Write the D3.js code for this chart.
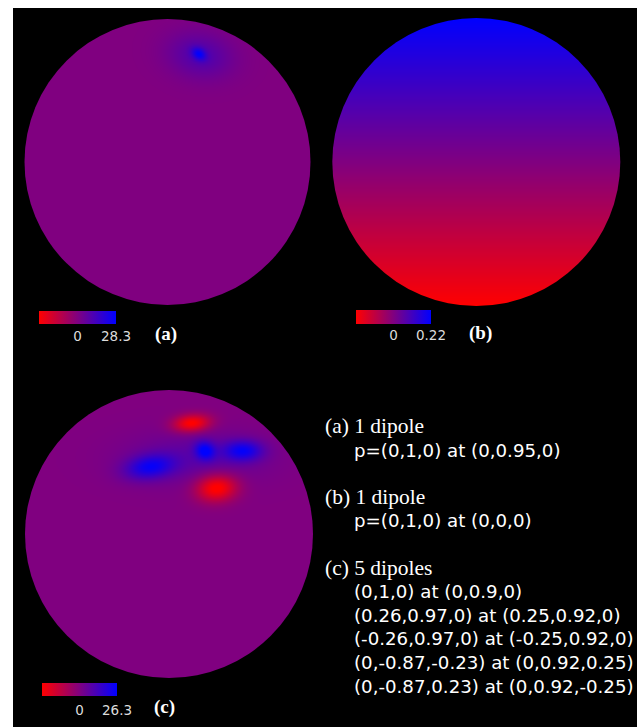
<!DOCTYPE html>
<html>
<head>
<meta charset="utf-8">
<script src="https://cdn.jsdelivr.net/npm/d3@7"></script>
<style>
  html, body { margin: 0; padding: 0; background: #fff; }
  svg { display: block; }
</style>
</head>
<body>
<script>
// ---- Data ---------------------------------------------------------------
// Panel identifiers and the colour-bar limit (symmetric, -max .. +max) of each map
const panelIds = ["(a)", "(b)", "(c)"];
const panelMax = [28.3, 0.22, 26.3];
const colorTicks = [[0, 28.3], [0, 0.22], [0, 26.3]];

// Potential sources on the unit disc (x to the right, y downwards):
// [x, y, value, spreadX, spreadY, rotationDeg]
const sourcesA = [
  [0.22, -0.755, 18.0, 0.038, 0.028, 35],
  [0.23, -0.745, 10.3, 0.16, 0.11, 10]
];
// Panel (b): value at the top and at the bottom of the disc, linear in between
const gradientB = [0.22, -0.22];
const sourcesC = [
  [0.158, -0.769, -28.0, 0.09, 0.042, -5],
  [0.25, -0.578, 22.0, 0.05, 0.045, 30],
  [0.514, -0.578, 21.0, 0.095, 0.05, 0],
  [-0.132, -0.465, 21.0, 0.12, 0.058, -8],
  [0.331, -0.319, -29.0, 0.1, 0.065, -5],
  [0.2, -0.53, 7.0, 0.34, 0.13, 0]
];

// Text describing the dipole configurations
const descTitles = ["(a) 1 dipole", "(b) 1 dipole", "(c) 5 dipoles"];
const descLines = [
  ["p=(0,1,0) at (0,0.95,0)"],
  ["p=(0,1,0) at (0,0,0)"],
  ["(0,1,0) at (0,0.9,0)",
   "(0.26,0.97,0) at (0.25,0.92,0)",
   "(-0.26,0.97,0) at (-0.25,0.92,0)",
   "(0,-0.87,-0.23) at (0,0.92,0.25)",
   "(0,-0.87,0.23) at (0,0.92,-0.25)"]
];

// ---- Layout ---------------------------------------------------------------
const W = 637, H = 727;
const discs = [
  { cx: 167.5, cy: 162, r: 143 },
  { cx: 476.3, cy: 162, r: 144 },
  { cx: 169, cy: 534, r: 144 }
];
const bars = [
  { x0: 39, x1: 116, y: 311, h: 13, tickY: 340.5, labelX: 155, labelY: 340 },
  { x0: 356, x1: 431, y: 310, h: 14, tickY: 339.5, labelX: 469, labelY: 339 },
  { x0: 42, x1: 117, y: 683, h: 13, tickY: 715, labelX: 154, labelY: 713 }
];

const svg = d3.select("body").append("svg")
  .attr("width", W).attr("height", H)
  .attr("viewBox", `0 0 ${W} ${H}`);

svg.append("rect").attr("x", 0).attr("y", 0).attr("width", W).attr("height", H).attr("fill", "#fff");
svg.append("rect").attr("x", 13).attr("y", 8).attr("width", W - 13).attr("height", H - 8).attr("fill", "#000");

const defs = svg.append("defs");

// Field evaluation from the source lists
function gaussField(sources) {
  const pre = sources.map(([x, y, v, sx, sy, rot]) => {
    const a = rot * Math.PI / 180;
    return { x, y, v, sx, sy, c: Math.cos(a), s: Math.sin(a) };
  });
  return (u, w) => {
    let total = 0;
    for (const p of pre) {
      const dx = u - p.x, dy = w - p.y;
      const rx = dx * p.c + dy * p.s;
      const ry = -dx * p.s + dy * p.c;
      total += p.v * Math.exp(-(rx * rx / (2 * p.sx * p.sx) + ry * ry / (2 * p.sy * p.sy)));
    }
    return total;
  };
}
const fields = [
  gaussField(sourcesA),
  (u, w) => d3.scaleLinear().domain([-1, 1]).range(gradientB)(w),
  gaussField(sourcesC)
];

function colorScaleFor(max) {
  return d3.scaleLinear()
    .domain([-max, 0, max])
    .range(["#ff0000", "#800080", "#0000ff"])
    .interpolate(d3.interpolateRgb)
    .clamp(true);
}

discs.forEach((d, i) => {
  const color = colorScaleFor(panelMax[i]);
  const size = Math.ceil(2 * d.r) + 2;
  const canvas = document.createElement("canvas");
  canvas.width = size; canvas.height = size;
  const ctx = canvas.getContext("2d");
  const img = ctx.createImageData(size, size);
  const half = size / 2;
  const field = fields[i];
  const toUnit = d3.scaleLinear().domain([half - d.r, half + d.r]).range([-1, 1]);
  for (let py = 0; py < size; py++) {
    const w = toUnit(py + 0.5);
    for (let px = 0; px < size; px++) {
      const u = toUnit(px + 0.5);
      const c = d3.rgb(color(field(u, w)));
      const k = (py * size + px) * 4;
      img.data[k] = c.r; img.data[k + 1] = c.g; img.data[k + 2] = c.b; img.data[k + 3] = 255;
    }
  }
  ctx.putImageData(img, 0, 0);

  const clipId = `disc-clip-${i}`;
  defs.append("clipPath").attr("id", clipId)
    .append("circle").attr("cx", d.cx).attr("cy", d.cy).attr("r", d.r);
  svg.append("image")
    .attr("href", canvas.toDataURL())
    .attr("x", d.cx - half).attr("y", d.cy - half)
    .attr("width", size).attr("height", size)
    .attr("preserveAspectRatio", "none")
    .attr("clip-path", `url(#${clipId})`);

  // Colour bar
  const b = bars[i];
  const gradId = `bar-grad-${i}`;
  const grad = defs.append("linearGradient").attr("id", gradId)
    .attr("x1", "0%").attr("x2", "100%").attr("y1", "0%").attr("y2", "0%");
  d3.range(0, 11).forEach(j => {
    const t = j / 10;
    grad.append("stop").attr("offset", `${t * 100}%`)
      .attr("stop-color", color(-panelMax[i] + 2 * panelMax[i] * t));
  });
  svg.append("rect").attr("x", b.x0).attr("y", b.y)
    .attr("width", b.x1 - b.x0).attr("height", b.h)
    .attr("fill", `url(#${gradId})`);

  const xBar = d3.scaleLinear().domain([-panelMax[i], panelMax[i]]).range([b.x0, b.x1]);
  svg.append("g").selectAll("text").data(colorTicks[i]).join("text")
    .attr("x", v => xBar(v))
    .attr("y", b.tickY)
    .attr("text-anchor", "middle")
    .attr("font-family", "DejaVu Sans, sans-serif")
    .attr("font-size", 13.5)
    .attr("fill", "#dcdcdc")
    .text(v => v);

  svg.append("text")
    .attr("x", b.labelX).attr("y", b.labelY)
    .attr("font-family", "Liberation Serif, serif")
    .attr("font-weight", "bold")
    .attr("font-size", 19)
    .attr("fill", "#fff")
    .text(panelIds[i]);
});

// Description block
const lineStep = 23.6;
let row = 0;
const desc = svg.append("g").attr("fill", "#fff");
descTitles.forEach((t, i) => {
  desc.append("text")
    .attr("x", 325).attr("y", 433 + row * lineStep)
    .attr("font-family", "Liberation Serif, serif")
    .attr("font-size", 21.5)
    .text(t);
  row++;
  descLines[i].forEach(line => {
    desc.append("text")
      .attr("x", 354).attr("y", 433 + row * lineStep)
      .attr("font-family", "DejaVu Sans, sans-serif")
      .attr("font-size", 18.2)
      .text(line);
    row++;
  });
  row++;
});
</script>
</body>
</html>
